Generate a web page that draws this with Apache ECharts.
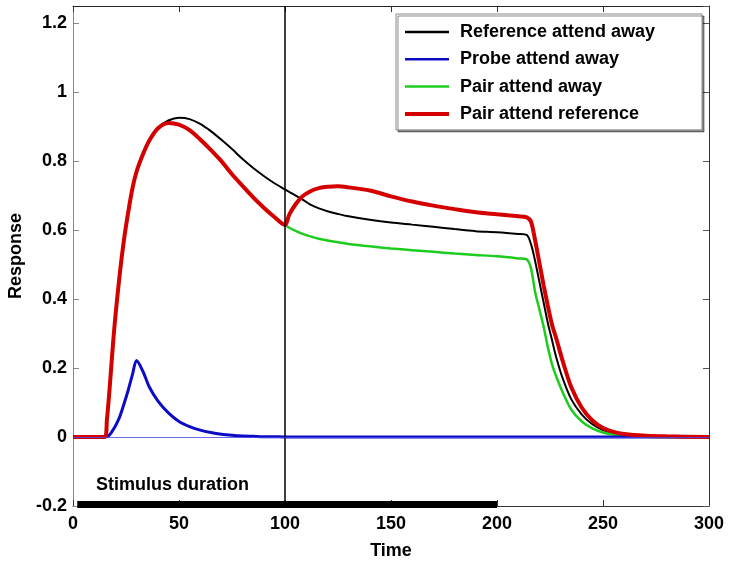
<!DOCTYPE html>
<html>
<head>
<meta charset="utf-8">
<script src="https://cdn.jsdelivr.net/npm/echarts@6/dist/echarts.min.js"></script>
<style>html,body{margin:0;padding:0;background:#fff;}#chart{width:732px;height:565px;}</style>
</head>
<body>
<div id="chart"></div>
<script>
const time = [0,15,16,17,18,19,20,22,24,26,28,30,33,36,40,45,50,55,60,65,70,75,80,85,90,95,100,
  102,105,108,112,116,120,125,130,140,150,160,170,180,190,200,210,214,216,218,220,
  222,224,226,228,231,235,240,245,250,255,260,270,280,300];

const refAttendAway = [0,0,0.05,0.12,0.2,0.28,0.35,0.47,0.57,0.65,0.72,0.77,0.82,0.86,0.897,0.918,0.926,
  0.922,0.908,0.887,0.862,0.835,0.806,0.78,0.757,0.736,0.718,
  0.711,0.70,0.69,0.674,0.663,0.655,0.647,0.64,0.63,0.622,0.616,0.61,0.603,0.597,0.594,0.589,0.586,0.56,0.51,0.45,
  0.39,0.33,0.28,0.23,0.17,0.11,0.065,0.037,0.02,0.011,0.006,0.002,0,0];

const probeAttendAway = [0,0,0.001,0.005,0.012,0.022,0.032,0.058,0.095,0.135,0.18,0.222,0.19,0.145,0.105,0.07,0.045,
  0.03,0.02,0.013,0.008,0.005,0.003,0.002,0.001,0.001,0,
  0,0,0,0,0,0,0,0,0,0,0,0,0,0,0,0,0,0,0,0,
  0,0,0,0,0,0,0,0,0,0,0,0,0,0];

const pairAttendAway = [0,0,0.05,0.12,0.2,0.28,0.35,0.47,0.57,0.65,0.72,0.77,0.82,0.86,0.895,0.911,0.906,
  0.89,0.863,0.833,0.80,0.762,0.728,0.695,0.665,0.638,0.615,
  0.607,0.598,0.59,0.582,0.575,0.57,0.565,0.56,0.553,0.547,0.542,0.537,0.532,0.528,0.524,0.518,0.515,0.49,0.42,0.37,
  0.32,0.26,0.21,0.175,0.13,0.08,0.045,0.025,0.013,0.007,0.003,0.001,0,0];

const pairAttendRef = [0,0,0.05,0.12,0.2,0.28,0.35,0.47,0.57,0.65,0.72,0.77,0.82,0.86,0.895,0.911,0.906,
  0.89,0.863,0.833,0.80,0.762,0.728,0.695,0.665,0.638,0.615,
  0.645,0.675,0.697,0.713,0.722,0.726,0.727,0.724,0.715,0.698,0.683,0.671,0.661,0.652,0.646,0.64,0.637,0.625,0.57,0.505,
  0.44,0.38,0.325,0.285,0.22,0.145,0.085,0.048,0.026,0.015,0.009,0.004,0.002,0];

const seriesNames = ['Reference attend away','Probe attend away','Pair attend away','Pair attend reference'];
const stimulusT = [2, 200];
const stimulusY = -0.196;
const stimulusText = 'Stimulus duration';
const markerT = 100;
const xTicks = {min:0, max:300, interval:50};
const yTicks = {min:-0.2, max:1.25, interval:0.2};

function pairs(vals){ return time.map((t,i)=>[t, vals[i]]); }

const FONT = 'Liberation Sans, Arial, Helvetica, sans-serif';
const chart = echarts.init(document.getElementById('chart'));
const lbl = {fontFamily:FONT, fontWeight:'bold', fontSize:18, color:'#000'};
const SMOOTH = 0.3;

chart.setOption({
  animation:false,
  backgroundColor:'#fff',
  grid:{left:73, right:23, top:6, bottom:59, containLabel:false, outerBoundsMode:'none'},
  legend:{
    data:[
      {name:seriesNames[0], lineStyle:{width:2.5}},
      {name:seriesNames[1], lineStyle:{width:2.5}},
      {name:seriesNames[2], lineStyle:{width:2.5}},
      {name:seriesNames[3], lineStyle:{width:4}}
    ],
    orient:'vertical',
    left:396, top:14,
    padding:[8,14,6,7],
    itemGap:7.3,
    itemWidth:44, itemHeight:14,
    itemStyle:{opacity:0},
    backgroundColor:'#fff',
    borderColor:'#888', borderWidth:1,
    shadowColor:'rgba(0,0,0,0.45)', shadowOffsetX:2, shadowOffsetY:2, shadowBlur:0,
    textStyle:{fontFamily:FONT, fontWeight:'bold', fontSize:18, color:'#000', lineHeight:20, padding:[0,0,0,6], width:228},
    selectedMode:false
  },
  xAxis:[{
    type:'value', min:xTicks.min, max:xTicks.max, interval:xTicks.interval,
    name:'Time', nameLocation:'middle', nameGap:36,
    nameTextStyle:{fontFamily:FONT, fontWeight:'bold', fontSize:18, color:'#000'},
    axisLine:{show:true, onZero:false, lineStyle:{color:'#333', width:1}},
    axisTick:{show:true, inside:true, length:6, lineStyle:{color:'#333'}},
    axisLabel:Object.assign({margin:9}, lbl),
    splitLine:{show:false}
  },{
    type:'value', position:'top', min:xTicks.min, max:xTicks.max, interval:xTicks.interval,
    axisLine:{show:true, onZero:false, lineStyle:{color:'#222', width:1}},
    axisTick:{show:true, inside:true, length:6, lineStyle:{color:'#333'}},
    axisLabel:{show:false}, splitLine:{show:false}
  }],
  yAxis:[{
    type:'value', min:yTicks.min, max:yTicks.max, interval:yTicks.interval,
    name:'Response', nameLocation:'middle', nameGap:47,
    nameTextStyle:{fontFamily:FONT, fontWeight:'bold', fontSize:18, color:'#000'},
    axisLine:{show:true, onZero:false, lineStyle:{color:'#888', width:1}},
    axisTick:{show:true, inside:true, length:6, lineStyle:{color:'#888'}},
    axisLabel:Object.assign({margin:6, showMaxLabel:false, formatter:v=>String(Math.round(v*10)/10)}, lbl),
    splitLine:{show:false}
  },{
    type:'value', position:'right', min:yTicks.min, max:yTicks.max, interval:yTicks.interval,
    axisLine:{show:true, onZero:false, lineStyle:{color:'#333', width:1}},
    axisTick:{show:true, inside:true, length:6, lineStyle:{color:'#555'}},
    axisLabel:{show:false}, splitLine:{show:false}
  }],
  graphic:[{
    type:'text', left:96, top:476,
    style:{text:stimulusText, font:'bold 18px '+FONT, fill:'#000'}
  }],
  series:[
    {
      name:'stimulus', type:'line', data:stimulusT.map(t=>[t, stimulusY]),
      symbol:'none', clip:false, silent:true,
      lineStyle:{color:'#000', width:7, cap:'butt'}, z:5
    },
    {
      name:seriesNames[0], type:'line', data:pairs(refAttendAway), symbol:'none',
      smooth:SMOOTH,
      lineStyle:{color:'#000', width:2}, itemStyle:{color:'#000'},
      markLine:{silent:true, symbol:'none', label:{show:false},
        lineStyle:{color:'#000', width:1.5, type:'solid'}, data:[{xAxis:markerT}]}
    },
    {
      name:seriesNames[2], type:'line', data:pairs(pairAttendAway), symbol:'none',
      smooth:SMOOTH,
      lineStyle:{color:'#1ecc1e', width:2.5}, itemStyle:{color:'#1ecc1e'}
    },
    {
      name:seriesNames[1], type:'line', data:pairs(probeAttendAway), symbol:'none',
      smooth:SMOOTH,
      lineStyle:{color:'#0c0cc4', width:3}, itemStyle:{color:'#0c0cc4'}
    },
    {
      name:seriesNames[3], type:'line', data:pairs(pairAttendRef), symbol:'none',
      smooth:SMOOTH,
      lineStyle:{color:'#d40000', width:4}, itemStyle:{color:'#d40000'},
      markLine:{silent:true, symbol:'none', label:{show:false},
        lineStyle:{color:'rgba(70,70,235,0.8)', width:1, type:'solid'}, data:[{yAxis:0}]}
    }
  ]
});
</script>
</body>
</html>
